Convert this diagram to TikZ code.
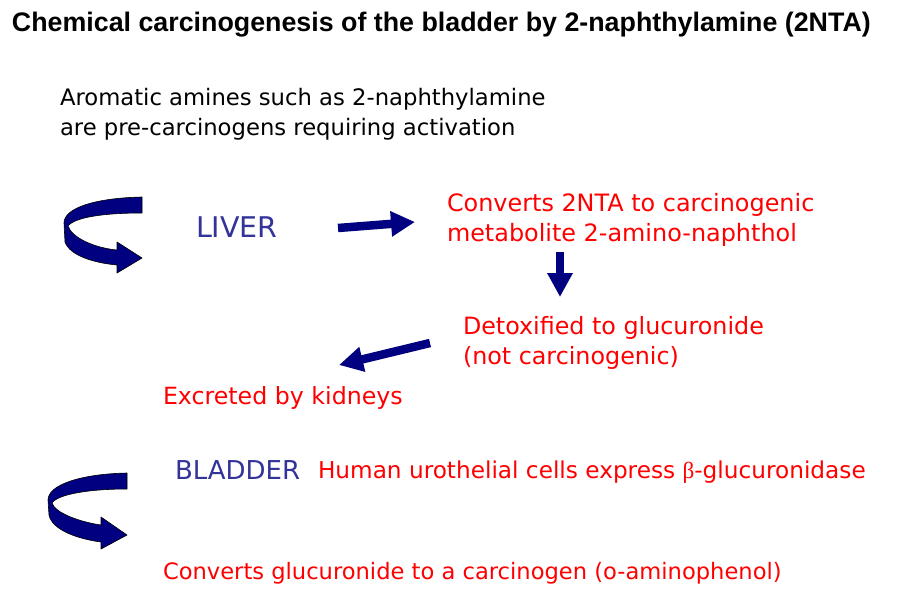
\documentclass[tikz,border=0pt]{standalone}
\usepackage{fontspec}
\setmainfont{DejaVu Sans}
\newfontfamily\titlefont{Liberation Sans}
\usetikzlibrary{arrows.meta}
\definecolor{navyarrow}{RGB}{0,0,128}
\definecolor{organblue}{RGB}{51,51,153}
\definecolor{redtext}{RGB}{255,0,0}
\tikzset{
  txt/.style={anchor=base west, inner sep=0pt, outer sep=0pt, align=left},
  fsz/.style={font=\fontsize{#1}{30}\selectfont},
  redlbl/.style={txt, text=redtext},
  organ/.style={txt, text=organblue},
  bigarrow/.style={draw=navyarrow, line width=8.5pt, -{Triangle[length=24pt,width=24pt]}},
  ribbon/.style={fill=navyarrow, draw=black, line width=0.6pt, line join=round}
}
\begin{document}
\begin{tikzpicture}[x=1pt,y=-1pt]
\useasboundingbox (0,0) rectangle (904,603);
\fill[white] (0,0) rectangle (904,603);
% title
\node[txt, font=\titlefont\bfseries\fontsize{26.8}{30}\selectfont] (title) at (12,31) {Chemical carcinogenesis of the bladder by 2-naphthylamine (2NTA)};
% intro (base = last line)
\node[txt, fsz=22.7] (intro) at (60,135) {Aromatic amines such as 2-naphthylamine\\are pre-carcinogens requiring activation};
% liver
\node[organ, fsz=28.5] (liver) at (196,237) {LIVER};
\node[redlbl, fsz=23.9] (converts) at (447,241) {Converts 2NTA to carcinogenic\\metabolite 2-amino-naphthol};
\node[redlbl, fsz=23.8] (detox) at (463,364) {Detoxified to glucuronide\\(not carcinogenic)};
\node[redlbl, fsz=23.7] (excreted) at (163,404) {Excreted by kidneys};
% bladder
\node[organ, fsz=26] (bladder) at (175,479) {BLADDER};
\node[redlbl, fsz=23.2] (human) at (318,478) {Human urothelial cells express {\fontspec{Liberation Serif}β}-glucuronidase};
\node[redlbl, fsz=22.6] (convglu) at (163,579) {Converts glucuronide to a carcinogen (o-aminophenol)};
% straight arrows
\coordinate (a1s) at (338,228);
\coordinate (a1e) at (415,222);
\draw[bigarrow] (a1s) -- (a1e);
\coordinate (a2s) at (560,252);
\coordinate (a2e) at (560,297);
\draw[bigarrow] (a2s) -- (a2e);
\coordinate (a3s) at (430,343);
\coordinate (a3e) at (339,365);
\draw[bigarrow] (a3s) -- (a3e);
% curved ribbon arrows
\path[ribbon] (142,197) .. controls (95,198) and (64,208) .. (64,223) -- (65,242)
  .. controls (70,256) and (95,263) .. (117,265) -- (117,273) -- (142,258) -- (117,242) -- (117,250)
  .. controls (95,248) and (72,238) .. (68,226) .. controls (75,217) and (105,213) .. (142,213) -- cycle;
\path[ribbon] (127,473) .. controls (80,474) and (48,485) .. (48,500) -- (49,515)
  .. controls (52,530) and (78,539) .. (101,542) -- (101,549) -- (127,535) -- (101,517) -- (101,525)
  .. controls (80,522) and (55,513) .. (52,503) .. controls (58,494) and (90,489) .. (127,489) -- cycle;
\end{tikzpicture}
\end{document}
